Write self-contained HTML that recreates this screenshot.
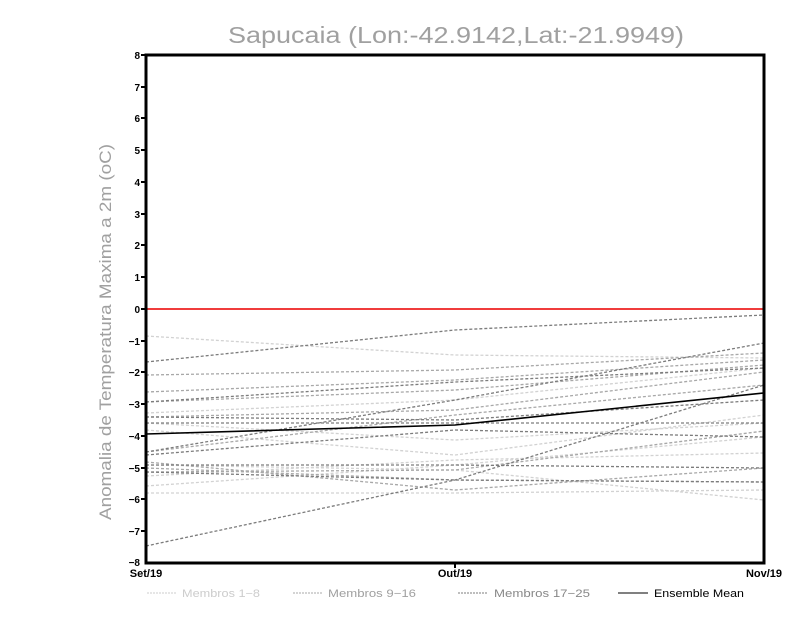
<!DOCTYPE html>
<html><head><meta charset="utf-8"><style>
html,body{margin:0;padding:0;background:#fff;}
svg{display:block;}
</style></head><body>
<svg width="800" height="618" viewBox="0 0 800 618" xmlns="http://www.w3.org/2000/svg" font-family="Liberation Sans, sans-serif">
<rect width="800" height="618" fill="#fff"/>
<text x="228" y="43" font-size="23" fill="#a0a0a0" textLength="456" lengthAdjust="spacingAndGlyphs">Sapucaia (Lon:-42.9142,Lat:-21.9949)</text>
<text transform="translate(111,520) rotate(-90)" font-size="17" fill="#a0a0a0" textLength="376" lengthAdjust="spacingAndGlyphs">Anomalia de Temperatura Maxima a 2m (oC)</text>
<g fill="none" stroke-width="1.3" stroke-dasharray="3,2">
<g stroke="#d2d2d2">
<polyline points="146,336 455,355 764,358"/>
<polyline points="146,413 455,400 764,368"/>
<polyline points="146,430 455,455 764,415"/>
<polyline points="146,465 455,470 764,500"/>
<polyline points="146,476 455,460 764,453"/>
<polyline points="146,486 455,465 764,437"/>
<polyline points="146,493 455,493 764,490"/>
<polyline points="146,423 455,440 764,423"/>
</g>
<g stroke="#a8a8a8">
<polyline points="146,375 455,370 764,353"/>
<polyline points="146,392 455,380 764,360"/>
<polyline points="146,402 455,390 764,365"/>
<polyline points="146,417 455,410 764,372"/>
<polyline points="146,462 455,490 764,468"/>
<polyline points="146,472 455,470 764,431"/>
<polyline points="146,452 455,415 764,385"/>
<polyline points="146,468 455,480 764,482"/>
</g>
<g stroke="#7c7c7c">
<polyline points="146,362 455,330 764,315"/>
<polyline points="146,546 455,480 764,385"/>
<polyline points="146,452 455,400 764,343"/>
<polyline points="146,402 455,382 764,368"/>
<polyline points="146,417 455,420 764,400"/>
<polyline points="146,423 455,423 764,423"/>
<polyline points="146,465 455,465 764,468"/>
<polyline points="146,472 455,480 764,482"/>
<polyline points="146,455 455,430 764,437"/>
</g>
</g>
<line x1="146" y1="309" x2="764" y2="309" stroke="#f03c3c" stroke-width="2"/>
<polyline points="146,434 455,425 764,393" fill="none" stroke="#000" stroke-width="1.6"/>
<rect x="146" y="55" width="618" height="508" fill="none" stroke="#000" stroke-width="3"/>
<g stroke="#000" stroke-width="2">
<line x1="141" y1="55" x2="146" y2="55"/><line x1="141" y1="87" x2="146" y2="87"/><line x1="141" y1="118" x2="146" y2="118"/><line x1="141" y1="150" x2="146" y2="150"/><line x1="141" y1="182" x2="146" y2="182"/><line x1="141" y1="214" x2="146" y2="214"/><line x1="141" y1="245" x2="146" y2="245"/><line x1="141" y1="277" x2="146" y2="277"/><line x1="141" y1="309" x2="146" y2="309"/><line x1="141" y1="341" x2="146" y2="341"/><line x1="141" y1="372" x2="146" y2="372"/><line x1="141" y1="404" x2="146" y2="404"/><line x1="141" y1="436" x2="146" y2="436"/><line x1="141" y1="468" x2="146" y2="468"/><line x1="141" y1="499" x2="146" y2="499"/><line x1="141" y1="531" x2="146" y2="531"/>
<line x1="455" y1="563" x2="455" y2="568"/>
</g>
<g font-size="10" font-weight="bold" text-anchor="end" fill="#000">
<text x="140" y="59">8</text><text x="140" y="91">7</text><text x="140" y="122">6</text><text x="140" y="154">5</text><text x="140" y="186">4</text><text x="140" y="218">3</text><text x="140" y="249">2</text><text x="140" y="281">1</text><text x="140" y="313">0</text><text x="140" y="345">−1</text><text x="140" y="376">−2</text><text x="140" y="408">−3</text><text x="140" y="440">−4</text><text x="140" y="472">−5</text><text x="140" y="503">−6</text><text x="140" y="535">−7</text><text x="140" y="566">−8</text>
</g>
<g font-size="11" font-weight="bold" fill="#000" text-anchor="middle">
<text x="146" y="577">Set/19</text><text x="455" y="577">Out/19</text><text x="764" y="577">Nov/19</text>
</g>
<g font-size="11">
<line x1="147" y1="593" x2="177" y2="593" stroke="#ccc" stroke-dasharray="2,1"/><text x="182" y="597" fill="#ccc" textLength="78" lengthAdjust="spacingAndGlyphs">Membros 1−8</text>
<line x1="293" y1="593" x2="323" y2="593" stroke="#a8a8a8" stroke-dasharray="2,1"/><text x="328" y="597" fill="#a0a0a0" textLength="88" lengthAdjust="spacingAndGlyphs">Membros 9−16</text>
<line x1="458" y1="593" x2="488" y2="593" stroke="#7c7c7c" stroke-dasharray="2,1"/><text x="494" y="597" fill="#888" textLength="96" lengthAdjust="spacingAndGlyphs">Membros 17−25</text>
<line x1="618" y1="593" x2="648" y2="593" stroke="#000"/><text x="654" y="597" fill="#000" textLength="90" lengthAdjust="spacingAndGlyphs">Ensemble Mean</text>
</g>
</svg>
</body></html>
